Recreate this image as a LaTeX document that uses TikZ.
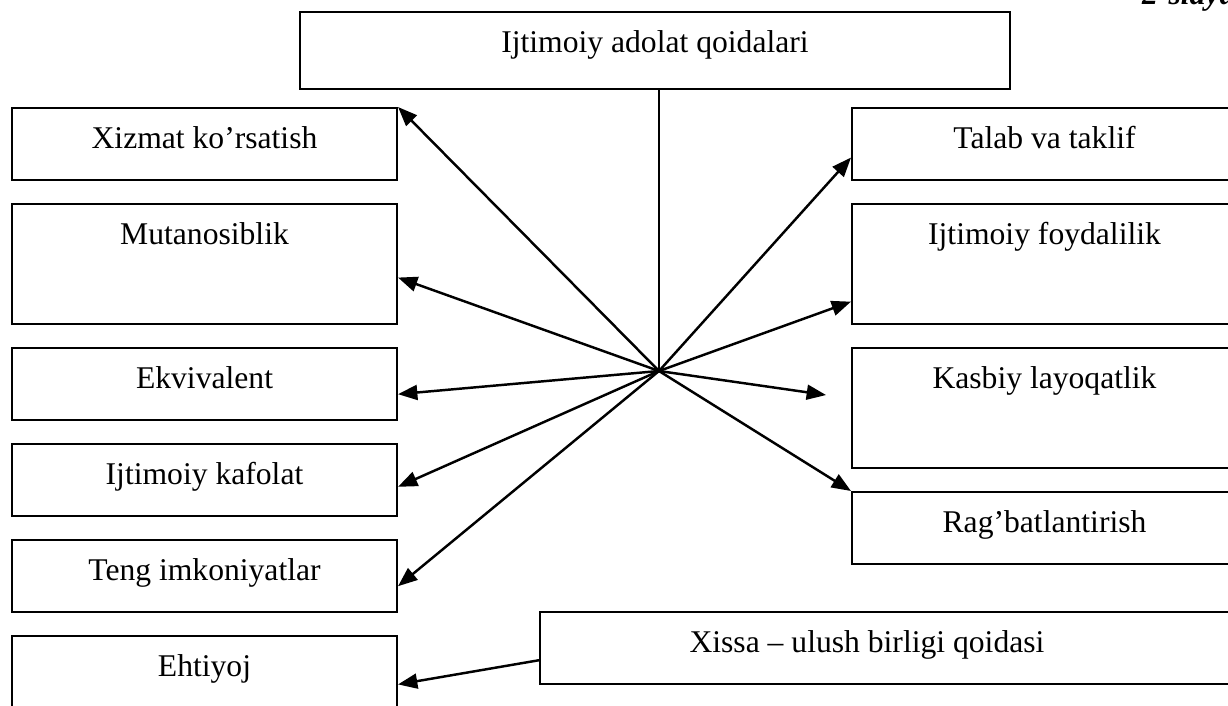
\documentclass[tikz,border=0pt]{standalone}
\usepackage{fontspec}
\setmainfont{Liberation Serif}
\usetikzlibrary{arrows.meta,positioning}

\begin{document}
\begin{tikzpicture}
			[x=0.02cm,y=-0.02cm,font=\fontsize{18}{21}\selectfont,
			box/.style={draw,line width=1.2pt,anchor=north west,inner sep=0pt,
				minimum width=7.7cm,text height=0.8cm,text depth=0.64cm},
			tall/.style={box,text depth=1.6cm},
			arc/.style={-{Triangle[length=11pt,width=8.5pt]},line width=1.4pt}]
			\clip (0,0) rectangle (1228,706);
			
			\node (top) [box,minimum width=14.2cm,text depth=0.74cm] at (299,11) {Ijtimoiy adolat qoidalari};
			\node (slayd) [anchor=base west,font=\fontsize{18}{21}\selectfont\bfseries\itshape] at (1136,5) {2-slayd};
			
			\node (1) [box] at (11,107) {Xizmat ko’rsatish};
			\node (2) [tall] at (11,203) {Mutanosiblik};
			\node (3) [box] at (11,347) {Ekvivalent};
			\node (4) [box] at (11,443) {Ijtimoiy kafolat};
			\node (5) [box] at (11,539) {Teng imkoniyatlar};
			\node (6) [box,text depth=1cm] at (11,635) {Ehtiyoj};
			
			\node (7) [box] at (851,107) {Talab va taklif};
			\node (8) [tall] at (851,203) {Ijtimoiy foydalilik};
			\node (9) [tall] at (851,347) {Kasbiy layoqatlik};
			\node (10) [box] at (851,491) {Rag’batlantirish};
			
			\node (11) [box,minimum width=13.92cm] at (539,611) {\hspace*{-0.84cm}Xissa -- ulush birligi qoidasi};
			
			\coordinate (hub) at (659,371);
			\coordinate (9end) at (826,395);
			
			\draw [line width=1.4pt] (top.south -| hub) -- (hub);
			\draw [arc] (hub) to (1.north east);
			\draw [arc] (hub) to (2.-4);
			\draw [arc] (hub) to (3.-3);
			\draw [arc] (hub) to (4.-2);
			\draw [arc] (hub) to (5.-3);
			\draw [arc] (hub) to (7.184);
			\draw [arc] (hub) to (8.191);
			\draw [arc] (hub) to (9end);
			\draw [arc] (hub) to (10.north west);
			\draw [arc] (11.182) to (6.-1);
			\end{tikzpicture}
\end{document}
